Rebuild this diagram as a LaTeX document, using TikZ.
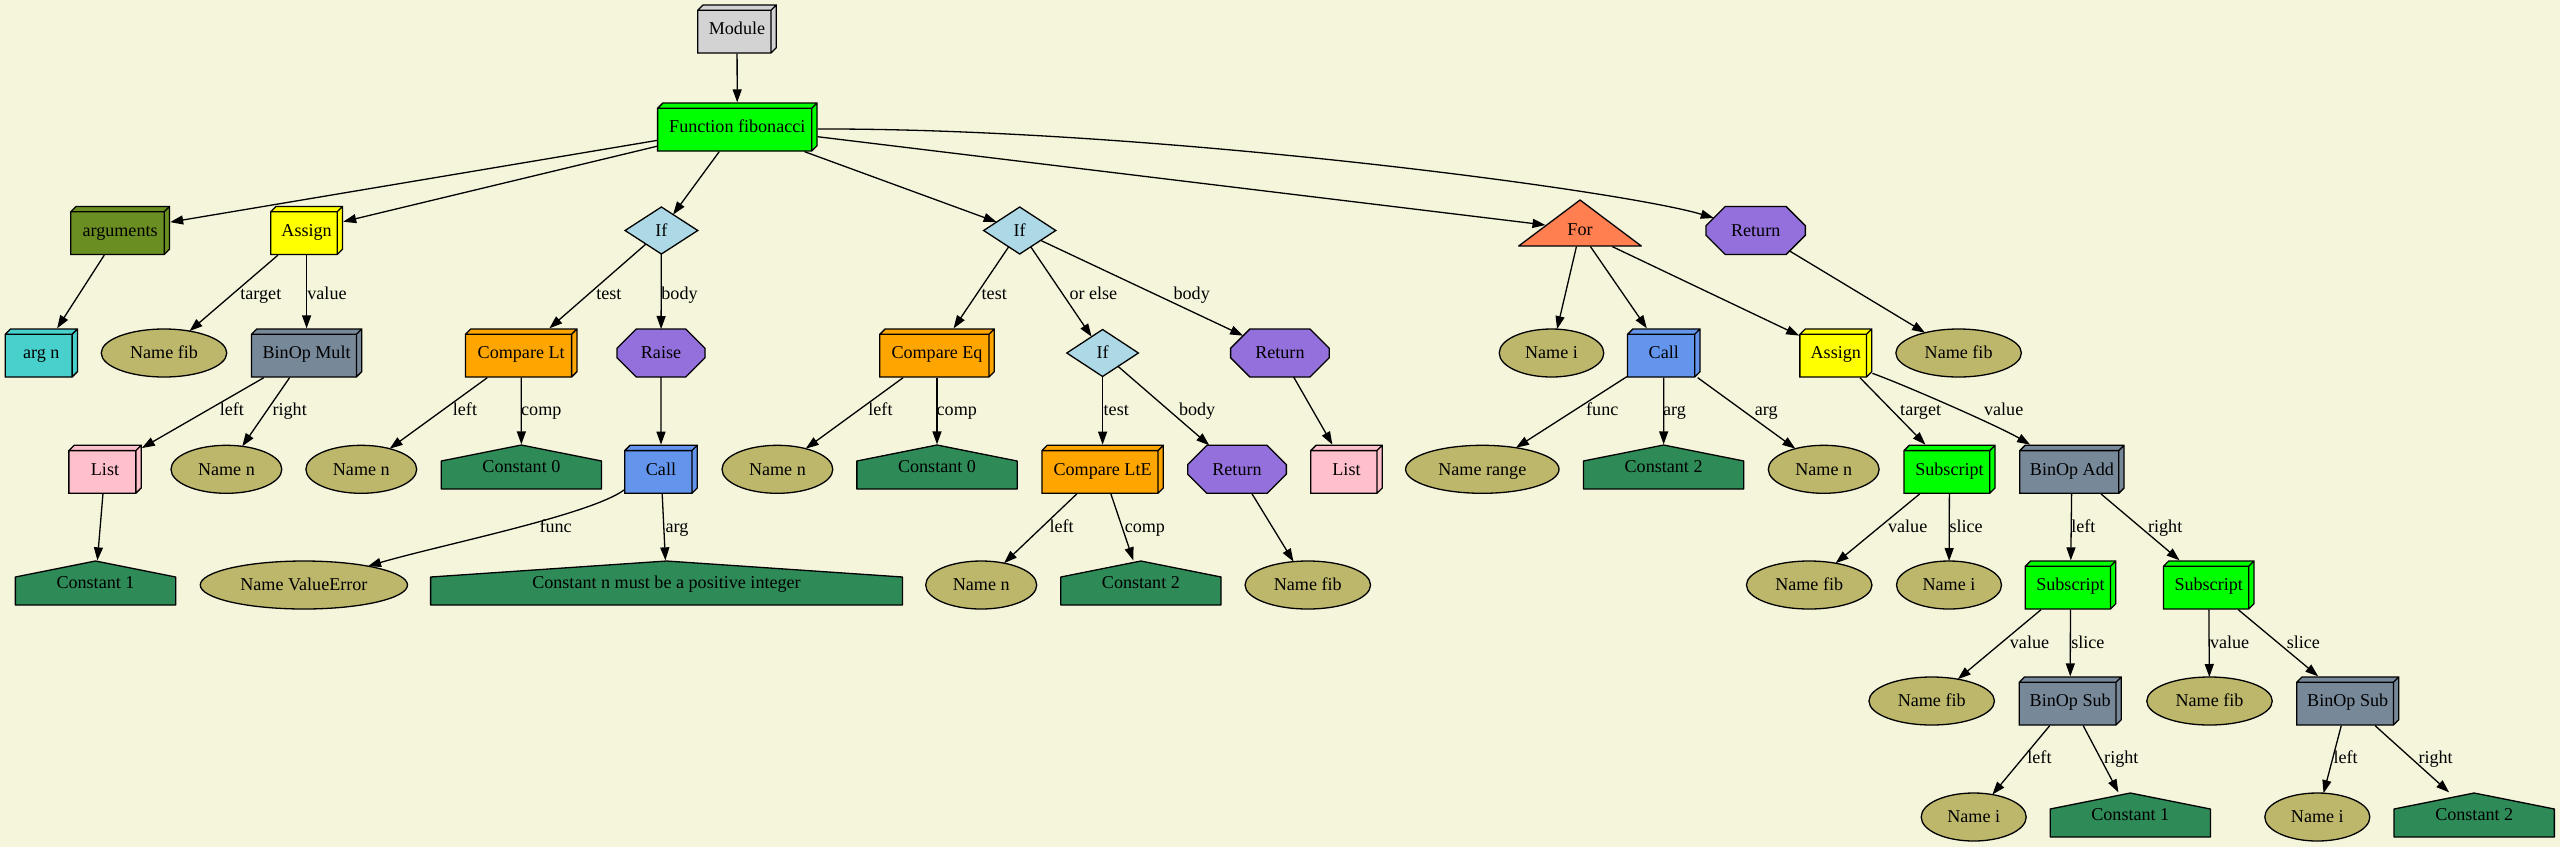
\documentclass[tikz,border=0pt]{standalone}
\usepackage{fontspec}
\setmainfont{Liberation Serif}
\usetikzlibrary{arrows.meta,shapes.geometric,shapes.misc,calc}
\definecolor{bg}{HTML}{F5F5DC}
\definecolor{gvgrey}{HTML}{D3D3D3}
\definecolor{gvgreen}{HTML}{00FF00}
\definecolor{gvolive}{HTML}{6B8E23}
\definecolor{gvturq}{HTML}{48D1CC}
\definecolor{gvyellow}{HTML}{FFFF00}
\definecolor{gvkhaki}{HTML}{BDB76B}
\definecolor{gvslate}{HTML}{778899}
\definecolor{gvpink}{HTML}{FFC0CB}
\definecolor{gvsea}{HTML}{2E8B57}
\definecolor{gvorange}{HTML}{FFA500}
\definecolor{gvlblue}{HTML}{ADD8E6}
\definecolor{gvpurple}{HTML}{9370DB}
\definecolor{gvcorn}{HTML}{6495ED}
\definecolor{gvcoral}{HTML}{FF7F50}
\tikzset{
  gv/.style={inner sep=0pt, outer sep=0pt, text height=11.85pt, text depth=0pt,
    font=\fontsize{18.1pt}{21pt}\selectfont},
  b3d/.style={gv, rectangle, fill=bg, minimum height=49.3pt, path picture={
    \draw[fill=#1, line width=1.3pt] let \p1=(path picture bounding box.south west),
      \p2=(path picture bounding box.north east) in
      (\x1+0.65pt,\y2-5.95pt) -- (\x1+5.95pt,\y2-0.65pt) -- (\x2-0.65pt,\y2-0.65pt)
      -- (\x2-0.65pt,\y1+5.95pt) -- (\x2-5.95pt,\y1+0.65pt) -- (\x1+0.65pt,\y1+0.65pt) -- cycle
      (\x1+0.65pt,\y2-5.95pt) -- (\x2-5.95pt,\y2-5.95pt) -- (\x2-5.95pt,\y1+0.65pt)
      (\x2-5.95pt,\y2-5.95pt) -- (\x2-0.65pt,\y2-0.65pt);}},
  house/.style={gv, rectangle, fill=bg, minimum width=161.6pt, minimum height=45.3pt, path picture={
    \draw[fill=gvsea, line width=1.3pt, line join=round] let \p1=(path picture bounding box.south west),
      \p2=(path picture bounding box.north east) in
      (0.5*\x1+0.5*\x2,\y2-0.65pt) -- (\x2-0.65pt,\y2-16.65pt) -- (\x2-0.65pt,\y1+0.65pt)
      -- (\x1+0.65pt,\y1+0.65pt) -- (\x1+0.65pt,\y2-16.65pt) -- cycle;}},
  tri/.style={gv, rectangle, fill=bg, path picture={
    \draw[fill=gvcoral, line width=1.3pt, line join=round] let \p1=(path picture bounding box.south west),
      \p2=(path picture bounding box.north east) in
      (0.5*\x1+0.5*\x2,\y2-0.65pt) -- (\x2-0.65pt,\y1+0.65pt) -- (\x1+0.65pt,\y1+0.65pt) -- cycle;}},
  ell/.style={gv, ellipse, draw, line width=1.3pt, fill=gvkhaki, minimum height=48pt},
  dia/.style={gv, diamond, draw, line width=1.3pt, fill=gvlblue, minimum height=47pt, aspect=1.5},
  oct/.style={gv, chamfered rectangle, draw, line width=1.3pt, fill=gvpurple, minimum height=48pt,
    chamfered rectangle ysep=13.3pt},
  lbl/.style={gv, anchor=west},
  arr/.style={-{Triangle[length=13pt,width=9pt]}, line width=1.3pt},
}
\begin{document}
\begin{tikzpicture}[x=1pt, y=-1pt]
\useasboundingbox (0,0) rectangle (2560,847);
\fill[bg] (0,0) rectangle (2560,847);
% row 0-1
\node[b3d=gvgrey, minimum width=79.9pt] (mod) at (737,29) {Module};
\node[b3d=gvgreen, minimum width=160.7pt] (fn) at (737.3,127) {Function fibonacci};
% row 2
\node[b3d=gvolive, minimum width=100.1pt] (args) at (120.1,230.5) {arguments};
\node[b3d=gvyellow, minimum width=73.2pt] (asg1) at (306.6,230.5) {Assign};
\node[dia, minimum width=72.7pt] (if1) at (661.4,230.5) {If};
\node[dia, minimum width=72.1pt] (if2) at (1019.7,230.5) {If};
\node[tri, minimum width=123.9pt, minimum height=47.3pt] (for) at (1580,223) {\raisebox{-7pt}{For}};
\node[oct, minimum width=99.3pt, chamfered rectangle xsep=29pt] (ret1) at (1755.7,230.5) {Return};
% row 3
\node[b3d=gvturq, minimum width=73.5pt] (argn) at (41.3,353) {arg n};
\node[ell, minimum width=125.5pt] (namefib1) at (164,353) {Name fib};
\node[b3d=gvslate, minimum width=111.5pt] (mult) at (306.6,353) {BinOp Mult};
\node[b3d=gvorange, minimum width=112.7pt] (cmplt) at (521.2,353) {Compare Lt};
\node[oct, minimum width=88pt, chamfered rectangle xsep=25.8pt] (raise) at (661,353) {Raise};
\node[b3d=gvorange, minimum width=115.7pt] (cmpeq) at (937,353) {Compare Eq};
\node[dia, minimum width=71.6pt] (if3) at (1102.6,353) {If};
\node[oct, minimum width=98.6pt, chamfered rectangle xsep=28.9pt] (ret2) at (1279.9,353) {Return};
\node[ell, minimum width=104.5pt] (namei1) at (1551.5,353) {Name i};
\node[b3d=gvcorn, minimum width=73.8pt] (call2) at (1663.8,353) {Call};
\node[b3d=gvyellow, minimum width=73.2pt] (asg2) at (1835.8,353) {Assign};
\node[ell, minimum width=125.5pt] (namefib3) at (1958.6,353) {Name fib};
% row 4
\node[b3d=gvpink, minimum width=73.6pt] (list1) at (105,469.3) {List};
\node[ell, minimum width=110.8pt] (namen1) at (226.4,469.3) {Name n};
\node[ell, minimum width=110.8pt] (namen2) at (361.3,469.3) {Name n};
\node[house] (const0a) at (521.4,467) {Constant 0};
\node[b3d=gvcorn, minimum width=73.8pt] (call1) at (661,469.3) {Call};
\node[ell, minimum width=110.8pt] (namen3) at (777.4,469.3) {Name n};
\node[house] (const0b) at (937,467) {Constant 0};
\node[b3d=gvorange, minimum width=122.7pt] (cmplte) at (1102.6,469.3) {Compare LtE};
\node[oct, minimum width=98.7pt, chamfered rectangle xsep=28.9pt] (ret3) at (1237,469.3) {Return};
\node[b3d=gvpink, minimum width=72.8pt] (list2) at (1346.5,469.3) {List};
\node[ell, minimum width=153.4pt] (namerange) at (1482.3,469.3) {Name range};
\node[house] (const2a) at (1663.6,467) {Constant 2};
\node[ell, minimum width=110.8pt] (namen5) at (1823.7,469.3) {Name n};
\node[b3d=gvgreen, minimum width=92.3pt] (sub1) at (1949.5,469.3) {Subscript};
\node[b3d=gvslate, minimum width=105.6pt] (add) at (2071.9,469.3) {BinOp Add};
% row 5
\node[house] (const1a) at (95.5,583) {Constant 1};
\node[ell, minimum width=207.2pt] (nameve) at (303.9,585) {Name ValueError};
\node[house, minimum width=473.1pt] (conststr) at (666.5,583) {Constant n must be a positive integer};
\node[ell, minimum width=111pt] (namen4) at (981.2,585) {Name n};
\node[house] (const2b) at (1140.9,583) {Constant 2};
\node[ell, minimum width=125.5pt] (namefib2) at (1307.8,585) {Name fib};
\node[ell, minimum width=125.5pt] (namefib4) at (1809.2,585) {Name fib};
\node[ell, minimum width=105pt] (namei2) at (1949,585) {Name i};
\node[b3d=gvgreen, minimum width=91.8pt] (sub2) at (2070.5,585) {Subscript};
\node[b3d=gvgreen, minimum width=91.8pt] (sub3) at (2208.7,585) {Subscript};
% row 6
\node[ell, minimum width=125.5pt] (namefib5) at (1931.7,701) {Name fib};
\node[b3d=gvslate, minimum width=103.3pt] (bsub1) at (2070.2,701) {BinOp Sub};
\node[ell, minimum width=125.5pt] (namefib6) at (2209.5,701) {Name fib};
\node[b3d=gvslate, minimum width=103.3pt] (bsub2) at (2347.7,701) {BinOp Sub};
% row 7
\node[ell, minimum width=105pt] (namei3) at (1973.7,817) {Name i};
\node[house] (const1b) at (2130.3,815) {Constant 1};
\node[ell, minimum width=105pt] (namei4) at (2317.3,817) {Name i};
\node[house] (const2c) at (2474.2,815) {Constant 2};
% edges
\draw[arr] (mod) -- (fn);
\draw[arr] (fn) -- (args);
\draw[arr] (fn) -- (asg1);
\draw[arr] (fn) -- (if1);
\draw[arr] (fn) -- (if2);
\draw[arr] (fn) -- ([shift={(-34.5,2)}]for.center);
\draw[arr] ([shift={(0,2)}]fn.east) .. controls (1150,128) and (1620,190) .. (ret1);
\draw[arr] (args) -- (argn);
\draw[arr] (asg1) -- (namefib1);
\draw[arr] (asg1) -- (mult);
\draw[arr] (mult) -- (list1);
\draw[arr] (mult) -- (namen1);
\draw[arr] (list1) -- (const1a);
\draw[arr] (if1) -- (cmplt);
\draw[arr] (if1) -- (raise);
\draw[arr] (cmplt) -- (namen2);
\draw[arr] (cmplt) -- (const0a);
\draw[arr] (raise) -- (call1);
\draw[arr] ([shift={(0,-4)}]call1.south west) .. controls (590,515) and (440,545) .. (nameve);
\draw[arr] (call1) -- (conststr);
\draw[arr] (if2) -- (cmpeq);
\draw[arr] (if2) -- (if3);
\draw[arr] (if2) -- (ret2);
\draw[arr] (cmpeq) -- (namen3);
\draw[arr] (cmpeq) -- (const0b);
\draw[arr] (if3) -- (cmplte);
\draw[arr] (if3) -- (ret3);
\draw[arr] (ret2) -- (list2);
\draw[arr] (cmplte) -- (namen4);
\draw[arr] (cmplte) -- (const2b);
\draw[arr] (ret3) -- (namefib2);
\draw[arr] ([xshift=-3.6pt]for.south) -- (namei1);
\draw[arr] ([xshift=10.5pt]for.south) -- (call2);
\draw[arr] ([xshift=32.4pt]for.south) -- (asg2);
\draw[arr] (ret1) -- (namefib3);
\draw[arr] (call2) -- (namerange);
\draw[arr] (call2) -- (const2a);
\draw[arr] (call2) -- (namen5);
\draw[arr] (asg2) -- (sub1);
\draw[arr] ([shift={(0,-4.3)}]asg2.south east) .. controls (1901.7,383.7) and (1999,426.3) .. (add);
\draw[arr] (sub1) -- (namefib4);
\draw[arr] (sub1) -- (namei2);
\draw[arr] (add) -- (sub2);
\draw[arr] (add) -- (sub3);
\draw[arr] (sub2) -- (namefib5);
\draw[arr] (sub2) -- (bsub1);
\draw[arr] (sub3) -- (namefib6);
\draw[arr] (sub3) -- (bsub2);
\draw[arr] (bsub1) -- (namei3);
\draw[arr] (bsub1) -- (const1b);
\draw[arr] (bsub2) -- (namei4);
\draw[arr] (bsub2) -- (const2c);
% labels
\node[lbl] (l1) at (240.4,293.5) {target};
\node[lbl] (l2) at (307.4,293.5) {value};
\node[lbl] (l3) at (596.3,293.5) {test};
\node[lbl] (l4) at (661.4,293.5) {body};
\node[lbl] (l5) at (981.7,293.5) {test};
\node[lbl] (l6) at (1069.5,293.5) {or else};
\node[lbl] (l7) at (1173.6,293.5) {body};
\node[lbl] (l8) at (219.8,410) {left};
\node[lbl] (l9) at (272.6,410) {right};
\node[lbl] (l10) at (452.9,410) {left};
\node[lbl] (l11) at (521.2,410) {comp};
\node[lbl] (l12) at (868.4,410) {left};
\node[lbl] (l13) at (936.7,410) {comp};
\node[lbl] (l14) at (1103.7,410) {test};
\node[lbl] (l15) at (1179,410) {body};
\node[lbl] (l16) at (1586.2,410) {func};
\node[lbl] (l17) at (1663.1,410) {arg};
\node[lbl] (l18) at (1754.8,410) {arg};
\node[lbl] (l19) at (1900.2,410) {target};
\node[lbl] (l20) at (1984.1,410) {value};
\node[lbl] (l21) at (539.6,527) {func};
\node[lbl] (l22) at (665.7,527) {arg};
\node[lbl] (l23) at (1049.5,527) {left};
\node[lbl] (l24) at (1124.8,527) {comp};
\node[lbl] (l25) at (1888.1,527) {value};
\node[lbl] (l26) at (1949.5,527) {slice};
\node[lbl] (l27) at (2071.3,527) {left};
\node[lbl] (l28) at (2148.1,527) {right};
\node[lbl] (l29) at (2009.9,643) {value};
\node[lbl] (l30) at (2071.3,643) {slice};
\node[lbl] (l31) at (2210,643) {value};
\node[lbl] (l32) at (2286.8,643) {slice};
\node[lbl] (l33) at (2027.4,758) {left};
\node[lbl] (l34) at (2104.2,758) {right};
\node[lbl] (l35) at (2333.5,758) {left};
\node[lbl] (l36) at (2418.5,758) {right};
\end{tikzpicture}
\end{document}
